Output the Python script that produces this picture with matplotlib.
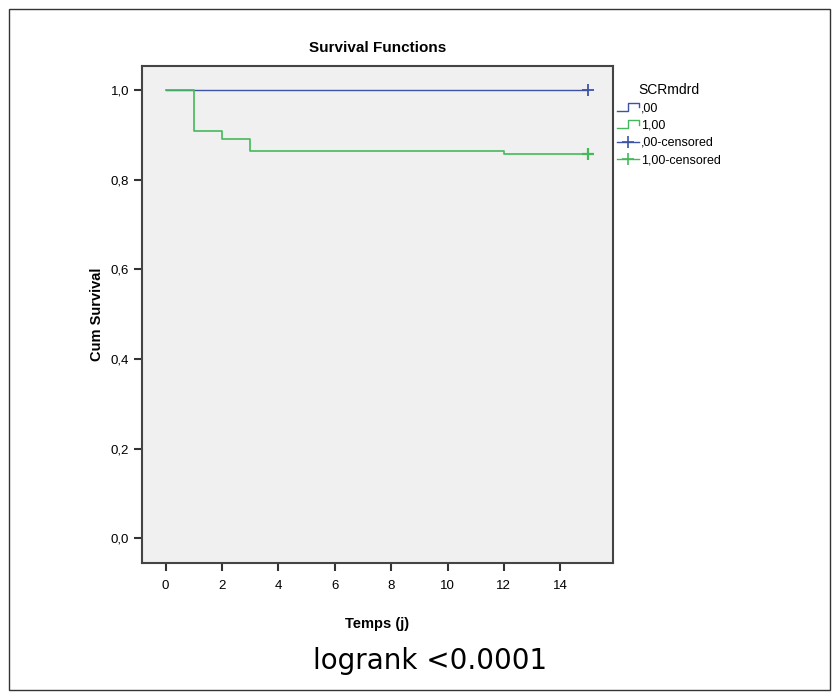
"""
plot.py - Kaplan-Meier style survival curves by SCRmdrd group.
"""
import matplotlib
matplotlib.use('Agg')
import matplotlib.pyplot as plt
from matplotlib.lines import Line2D
from matplotlib.legend_handler import HandlerBase
from matplotlib.patches import Rectangle

plt.rcParams['font.family'] = ['Liberation Sans', 'DejaVu Sans']

# step times (days) and survival values
times_00 = [0, 15]
surv_00 = [1.0, 1.0]
cens_00_t = [15]
cens_00_s = [1.0]

times_10 = [0, 1, 2, 3, 12, 15]
surv_10 = [1.0, 0.909, 0.891, 0.865, 0.857, 0.857]
cens_10_t = [15]
cens_10_s = [0.857]

xticks = [0, 2, 4, 6, 8, 10, 12, 14]
yticks = [0.0, 0.2, 0.4, 0.6, 0.8, 1.0]
ytick_labels = ['0,0', '0,2', '0,4', '0,6', '0,8', '1,0']
legend_labels = [',00', '1,00', ',00-censored', '1,00-censored']

blue = '#3d53a6'
green = '#45b95a'


class StepHandler(HandlerBase):
    # little step icon like the SPSS legend
    def create_artists(self, legend, orig_handle, xdescent, ydescent,
                       width, height, fontsize, trans):
        x0 = -xdescent
        y0 = -ydescent
        xs = [x0, x0 + width * 0.5, x0 + width * 0.5, x0 + width, x0 + width]
        ys = [y0 + height * 0.0, y0 + height * 0.0, y0 + height * 1.0,
              y0 + height * 1.0, y0 + height * 0.45]
        l = Line2D(xs, ys, color=orig_handle.get_color(), lw=1.0, transform=trans)
        return [l]


fig = plt.figure(figsize=(8.38, 6.99), dpi=100)
ax = fig.add_axes([0.1698, 0.1942, 0.5613, 0.7118])
ax.set_facecolor('#f0f0f0')

l1, = ax.step(times_00, surv_00, where='post', color=blue, lw=1.0)
l2, = ax.step(times_10, surv_10, where='post', color=green, lw=1.2)
ax.plot(cens_00_t, cens_00_s, '+', color=blue, ms=9, mew=1.3)
ax.plot(cens_10_t, cens_10_s, '+', color=green, ms=9, mew=1.6)

ax.set_xlim(-0.83, 15.86)
ax.set_ylim(-0.056, 1.055)
ax.set_xticks(xticks)
ax.set_yticks(yticks)
ax.set_yticklabels(ytick_labels)
ax.tick_params(direction='out', length=6, width=1.5, labelsize=9.5, color='#333333')
ax.tick_params(axis='x', pad=6)
for s in ax.spines.values():
    s.set_color('#444444')
    s.set_linewidth(1.5)

ax.set_title('Survival Functions', fontsize=11, fontweight='bold', pad=10)
ax.set_xlabel('Temps (j)', fontsize=10.5, fontweight='bold', labelpad=18)
ax.set_ylabel('Cum Survival', fontsize=10.5, fontweight='bold', labelpad=5)

# legend handles: step icons for the curves, line with + for censored
h3 = Line2D([], [], color=blue, lw=1.0, marker='+', ms=8, mew=1.2)
h4 = Line2D([], [], color=green, lw=1.0, marker='+', ms=8, mew=1.2)
leg = ax.legend([l1, l2, h3, h4], legend_labels, title='SCRmdrd',
                handler_map={l1: StepHandler(), l2: StepHandler()},
                loc='upper left', bbox_to_anchor=(0.998, 0.975), frameon=False,
                fontsize=9, title_fontsize=10, handlelength=1.8, handleheight=0.6,
                handletextpad=0.15, labelspacing=0.42, borderaxespad=0.0)

fig.text(0.513, 0.055, 'logrank <0.0001', fontsize=20, ha='center', va='center',
         family='DejaVu Sans')

fig.patches.append(Rectangle((9 / 838, 1 - 690 / 699), 821 / 838, 681 / 699,
                             transform=fig.transFigure, fill=False,
                             edgecolor='#333333', lw=1.0))

fig.savefig('out.png', dpi=100)
